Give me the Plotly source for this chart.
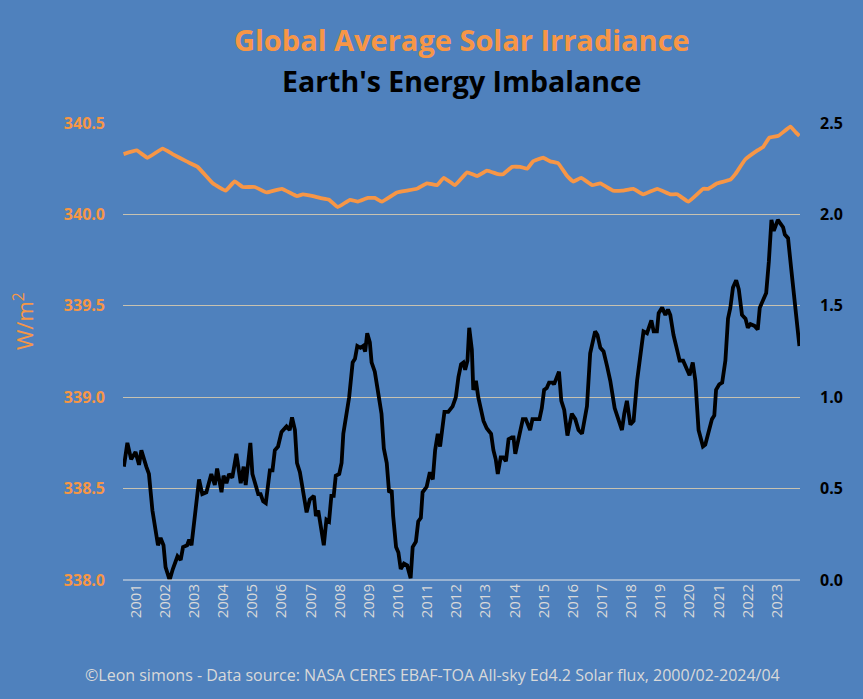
import plotly.graph_objects as go

# Global average solar irradiance (W/m2), 12-month running mean
tsi_year = [2000.58, 2001.03, 2001.40, 2001.92, 2002.26, 2002.74, 2003.12, 2003.64, 2004.08, 2004.39,
            2004.67, 2005.08, 2005.49, 2006.01, 2006.53, 2006.73, 2007.08, 2007.32, 2007.63, 2007.93,
            2008.35, 2008.62, 2008.96, 2009.20, 2009.44, 2009.96, 2010.30, 2010.64, 2010.99, 2011.33,
            2011.57, 2011.95, 2012.37, 2012.71, 2013.05, 2013.43, 2013.60, 2013.91, 2014.19, 2014.43,
            2014.63, 2014.98, 2015.22, 2015.49, 2015.80, 2016.01, 2016.28, 2016.66, 2016.94, 2017.38,
            2017.69, 2018.07, 2018.41, 2018.89, 2019.34, 2019.58, 2019.96, 2020.47, 2020.64, 2020.95,
            2021.40, 2021.57, 2021.91, 2022.33, 2022.53, 2022.74, 2023.05, 2023.46, 2023.64, 2023.77]
tsi_vals = [340.33, 340.35, 340.31, 340.36, 340.33, 340.29, 340.26, 340.17, 340.13, 340.18,
            340.15, 340.15, 340.12, 340.14, 340.10, 340.11, 340.10, 340.09, 340.08, 340.04,
            340.08, 340.07, 340.09, 340.09, 340.07, 340.12, 340.13, 340.14, 340.17, 340.16,
            340.20, 340.16, 340.23, 340.21, 340.24, 340.22, 340.22, 340.26, 340.26, 340.25,
            340.29, 340.31, 340.29, 340.28, 340.21, 340.18, 340.20, 340.16, 340.17, 340.13,
            340.13, 340.14, 340.11, 340.14, 340.11, 340.11, 340.07, 340.14, 340.14, 340.17,
            340.19, 340.22, 340.30, 340.35, 340.37, 340.42, 340.43, 340.48, 340.45, 340.43]

# Earth's energy imbalance (W/m2), 12-month running mean
eei_year = [2000.59, 2000.71, 2000.84, 2000.99, 2001.11, 2001.19, 2001.36, 2001.45, 2001.57, 2001.76,
            2001.85, 2001.95, 2002.02, 2002.16, 2002.27, 2002.43, 2002.54, 2002.62, 2002.76, 2002.83,
            2002.91, 2003.02, 2003.17, 2003.28, 2003.42, 2003.59, 2003.71, 2003.79, 2003.94, 2004.01,
            2004.11, 2004.20, 2004.31, 2004.45, 2004.60, 2004.70, 2004.77, 2004.93, 2005.00, 2005.20,
            2005.28, 2005.37, 2005.46, 2005.60, 2005.69, 2005.77, 2005.88, 2006.00, 2006.17, 2006.28,
            2006.36, 2006.46, 2006.53, 2006.63, 2006.86, 2006.97, 2007.11, 2007.18, 2007.26, 2007.45,
            2007.54, 2007.63, 2007.71, 2007.79, 2007.86, 2007.98, 2008.06, 2008.12, 2008.23, 2008.32,
            2008.44, 2008.52, 2008.60, 2008.71, 2008.80, 2008.87, 2008.94, 2009.03, 2009.09, 2009.20,
            2009.30, 2009.43, 2009.51, 2009.61, 2009.69, 2009.78, 2009.83, 2009.93, 2010.01, 2010.09,
            2010.20, 2010.31, 2010.43, 2010.50, 2010.61, 2010.69, 2010.78, 2010.84, 2010.98, 2011.09,
            2011.19, 2011.27, 2011.36, 2011.44, 2011.59, 2011.72, 2011.87, 2011.98, 2012.07, 2012.16,
            2012.24, 2012.30, 2012.38, 2012.44, 2012.53, 2012.58, 2012.67, 2012.75, 2012.93, 2013.04,
            2013.19, 2013.27, 2013.35, 2013.42, 2013.52, 2013.61, 2013.70, 2013.79, 2013.90, 2013.96,
            2014.02, 2014.16, 2014.28, 2014.38, 2014.53, 2014.61, 2014.76, 2014.85, 2014.93, 2015.01,
            2015.10, 2015.18, 2015.31, 2015.35, 2015.52, 2015.60, 2015.70, 2015.81, 2015.96, 2016.08,
            2016.19, 2016.31, 2016.48, 2016.59, 2016.76, 2016.84, 2016.94, 2017.05, 2017.17, 2017.28,
            2017.43, 2017.56, 2017.68, 2017.76, 2017.85, 2017.97, 2018.08, 2018.20, 2018.31, 2018.42,
            2018.54, 2018.69, 2018.77, 2018.88, 2018.94, 2019.06, 2019.17, 2019.26, 2019.34, 2019.45,
            2019.57, 2019.66, 2019.78, 2019.89, 2020.00, 2020.11, 2020.20, 2020.31, 2020.46, 2020.54,
            2020.66, 2020.77, 2020.85, 2020.91, 2021.02, 2021.12, 2021.23, 2021.32, 2021.40, 2021.49,
            2021.60, 2021.69, 2021.80, 2021.92, 2022.00, 2022.09, 2022.23, 2022.34, 2022.41, 2022.53,
            2022.63, 2022.72, 2022.81, 2022.89, 2023.03, 2023.12, 2023.21, 2023.27, 2023.38, 2023.49,
            2023.60, 2023.70, 2023.77]
eei_vals = [0.62, 0.75, 0.66, 0.70, 0.63, 0.71, 0.62, 0.58, 0.38, 0.19,
            0.23, 0.19, 0.07, 0.00, 0.06, 0.13, 0.11, 0.18, 0.19, 0.22,
            0.19, 0.35, 0.55, 0.47, 0.48, 0.58, 0.52, 0.61, 0.48, 0.57,
            0.53, 0.58, 0.56, 0.69, 0.53, 0.62, 0.52, 0.75, 0.58, 0.47,
            0.47, 0.43, 0.42, 0.60, 0.60, 0.71, 0.73, 0.81, 0.84, 0.82,
            0.89, 0.82, 0.64, 0.59, 0.37, 0.44, 0.46, 0.35, 0.38, 0.19,
            0.33, 0.32, 0.46, 0.46, 0.57, 0.58, 0.64, 0.80, 0.91, 1.00,
            1.19, 1.21, 1.28, 1.27, 1.28, 1.25, 1.35, 1.30, 1.19, 1.14,
            1.04, 0.91, 0.72, 0.64, 0.48, 0.49, 0.35, 0.18, 0.15, 0.06,
            0.09, 0.08, 0.01, 0.18, 0.21, 0.32, 0.34, 0.48, 0.51, 0.59,
            0.55, 0.71, 0.80, 0.73, 0.92, 0.92, 0.95, 1.00, 1.11, 1.18,
            1.19, 1.15, 1.20, 1.38, 1.26, 1.04, 1.09, 1.00, 0.87, 0.83,
            0.80, 0.71, 0.66, 0.58, 0.67, 0.67, 0.65, 0.77, 0.78, 0.78,
            0.69, 0.80, 0.88, 0.88, 0.82, 0.88, 0.88, 0.88, 0.94, 1.04,
            1.05, 1.08, 1.08, 1.07, 1.14, 0.98, 0.93, 0.79, 0.91, 0.88,
            0.82, 0.80, 0.95, 1.24, 1.36, 1.34, 1.27, 1.25, 1.17, 1.09,
            0.94, 0.87, 0.82, 0.91, 0.98, 0.85, 0.87, 1.09, 1.22, 1.36,
            1.35, 1.42, 1.36, 1.36, 1.46, 1.49, 1.45, 1.48, 1.45, 1.34,
            1.26, 1.20, 1.20, 1.16, 1.12, 1.19, 1.09, 0.82, 0.73, 0.74,
            0.82, 0.88, 0.90, 1.04, 1.07, 1.08, 1.20, 1.43, 1.49, 1.60,
            1.64, 1.59, 1.45, 1.43, 1.38, 1.40, 1.39, 1.37, 1.49, 1.53,
            1.57, 1.74, 1.97, 1.91, 1.97, 1.95, 1.93, 1.89, 1.87, 1.70,
            1.53, 1.40, 1.28]

year_ticks = list(range(2001, 2024))
left_ticks = [338.0, 338.5, 339.0, 339.5, 340.0, 340.5]
right_ticks = [0.0, 0.5, 1.0, 1.5, 2.0, 2.5]

BG = "#4f81bd"
ORANGE = "#f79646"
FONT = "Open Sans"

fig = go.Figure()
fig.add_trace(go.Scatter(x=tsi_year, y=tsi_vals, mode="lines",
                         line=dict(color=ORANGE, width=3.8, shape="spline", smoothing=0.3),
                         name="Solar", yaxis="y"))
fig.add_trace(go.Scatter(x=eei_year, y=eei_vals, mode="lines",
                         line=dict(color="black", width=3.8),
                         name="EEI", yaxis="y2"))

fig.update_layout(
    width=863, height=699,
    paper_bgcolor=BG, plot_bgcolor=BG,
    margin=dict(l=123, r=63, t=123, b=119),
    showlegend=False,
    font=dict(family=FONT),
    xaxis=dict(range=[2000.56, 2023.79], tickvals=year_ticks,
               ticktext=[str(y) for y in year_ticks], tickangle=-90,
               tickfont=dict(size=15, color="#d9d9d9", family=FONT),
               showgrid=False, zeroline=False, showline=False, ticks=""),
    yaxis=dict(range=[338.0, 340.5], tickvals=left_ticks,
               ticktext=[f"<b>{v:.1f}</b>" for v in left_ticks],
               tickfont=dict(size=16, color=ORANGE, family=FONT),
               gridcolor="#c8c2b0", gridwidth=1, zeroline=False, showline=False,
               ticklabelstandoff=17),
    yaxis2=dict(range=[0.0, 2.5], tickvals=right_ticks,
                ticktext=[f"<b>{v:.1f}</b>" for v in right_ticks],
                tickfont=dict(size=16, color="black", family=FONT),
                overlaying="y", side="right", showgrid=False, zeroline=False,
                showline=False, ticklabelstandoff=19),
)

fig.add_shape(type="line", xref="paper", yref="paper", x0=0, x1=1, y0=0, y1=0,
              line=dict(color="#e6e6e6", width=1.2))

fig.add_annotation(text="<b>Global Average Solar Irradiance</b>", xref="paper", yref="paper",
                   x=0.5, y=(580 - 39) / 457, showarrow=False, xanchor="center", yanchor="middle",
                   font=dict(size=29, color=ORANGE, family=FONT))
fig.add_annotation(text="<b>Earth's Energy Imbalance</b>", xref="paper", yref="paper",
                   x=0.5, y=(580 - 81) / 457, showarrow=False, xanchor="center", yanchor="middle",
                   font=dict(size=28.5, color="black", family=FONT))
fig.add_annotation(text="W/m<sup>2</sup>", xref="paper", yref="paper",
                   x=(23 - 123) / 677, y=(580 - 321) / 457, showarrow=False, textangle=-90,
                   xanchor="center", yanchor="middle",
                   font=dict(size=22, color=ORANGE, family=FONT))
fig.add_annotation(text="©Leon simons - Data source: NASA CERES EBAF-TOA All-sky Ed4.2 Solar flux, 2000/02-2024/04",
                   xref="paper", yref="paper", x=(432 - 123) / 677, y=(580 - 675) / 457,
                   showarrow=False, xanchor="center", yanchor="middle",
                   font=dict(size=16, color="#d9d9d9", family=FONT))

fig.write_html("out.html", config={"displayModeBar": False},
               post_script="document.body.style.margin='0';document.body.style.background='#4f81bd';")
